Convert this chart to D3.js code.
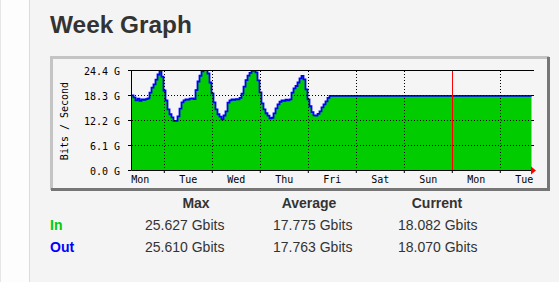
<!DOCTYPE html>
<html>
<head>
<meta charset="utf-8">
<script src="https://cdn.jsdelivr.net/npm/d3@7"></script>
<style>
html, body { margin: 0; padding: 0; background: #f4f4f4; overflow: hidden; }
svg { display: block; }
</style>
</head>
<body>
<div id="chart"></div>
<script>
// hourly samples (Gbit/s) from the start of the graph, then a flat tail
const inValues = [
  18.30, 17.81, 17.08, 17.45, 16.95, 17.32, 17.20, 17.38, 17.57, 19.03,
  20.25, 20.98, 22.20, 23.42, 24.60, 22.94, 19.52, 17.08, 14.88, 13.66,
  12.93, 12.08, 12.08, 13.18, 15.13, 16.59, 17.08, 17.32, 17.20, 17.45,
  17.57, 17.40, 19.76, 21.72, 23.18, 24.16, 25.63, 24.90, 23.67, 21.47,
  18.79, 16.59, 14.88, 13.66, 13.05, 12.44, 13.42, 14.40, 16.59, 17.08,
  17.32, 17.15, 17.40, 17.32, 17.69, 18.79, 20.50, 22.08, 23.18, 23.79,
  24.28, 24.70, 23.91, 21.96, 19.03, 16.35, 14.88, 13.91, 13.30, 12.69,
  12.81, 13.91, 15.13, 16.10, 16.71, 17.08, 16.95, 17.20, 17.08, 17.32,
  19.03, 20.01, 20.62, 21.47, 22.45, 23.06, 22.20, 19.76, 17.32, 15.62,
  14.15, 13.42, 13.30, 13.79, 14.40, 15.37, 16.10, 16.84, 17.69, 18.18
];
const outValues = [
  18.20, 17.70, 17.00, 17.40, 16.90, 17.25, 17.10, 17.30, 17.50, 18.90,
  20.10, 20.90, 22.05, 23.30, 24.50, 22.80, 19.40, 17.00, 14.80, 13.60,
  12.85, 12.00, 12.00, 13.10, 15.00, 16.50, 17.00, 17.25, 17.15, 17.40,
  17.50, 17.30, 19.50, 21.60, 23.00, 24.05, 25.61, 24.80, 23.55, 21.35,
  18.70, 16.50, 14.80, 13.60, 13.00, 12.35, 13.30, 14.30, 16.45, 17.00,
  17.25, 17.10, 17.30, 17.25, 17.60, 18.65, 20.35, 21.95, 23.05, 23.70,
  24.20, 24.60, 23.80, 21.85, 18.95, 16.25, 14.80, 13.85, 13.25, 12.60,
  12.75, 13.80, 15.05, 16.00, 16.65, 17.00, 16.90, 17.15, 17.00, 17.25,
  18.90, 19.90, 20.50, 21.35, 22.35, 22.95, 22.10, 19.65, 17.25, 15.55,
  14.10, 13.35, 13.25, 13.70, 14.30, 15.30, 16.00, 16.75, 17.60, 18.10
];
const currentIn = 18.082;
const currentOut = 18.070;

const yTicks = [0, 6.1, 12.2, 18.3, 24.4];
const statHeaders = ["Max", "Average", "Current"];
const inStats = ["25.627 Gbits", "17.775 Gbits", "18.082 Gbits"];
const outStats = ["25.610 Gbits", "17.763 Gbits", "18.070 Gbits"];

const start = new Date(2024, 0, 1, 7, 36);   // a Monday morning
const spanHours = 200;
const end = d3.timeHour.offset(start, spanHours);
const weekStart = new Date(2024, 0, 8);      // red line

function toSeries(vals, current) {
  const s = vals.map((v, i) => ({ t: d3.timeHour.offset(start, i), v: v }));
  s.push({ t: d3.timeHour.offset(start, vals.length), v: current });
  s.push({ t: end, v: current });
  return s;
}
const inSeries = toSeries(inValues, currentIn);
const outSeries = toSeries(outValues, currentOut);

const W = 559, H = 282;
const svg = d3.select("#chart").append("svg").attr("width", W).attr("height", H);

// page background with left strip
svg.append("rect").attr("width", W).attr("height", H).attr("fill", "#f4f4f4");
svg.append("rect").attr("x", 0).attr("width", 29).attr("height", H).attr("fill", "#fdfdfd");
svg.append("line").attr("x1", 29.5).attr("x2", 29.5).attr("y1", 0).attr("y2", H).attr("stroke", "#dcdcdc");
svg.append("line").attr("x1", 0.5).attr("x2", 0.5).attr("y1", 0).attr("y2", H).attr("stroke", "#e6e6e6");

svg.append("text").text("Week Graph")
  .attr("x", 50).attr("y", 33)
  .attr("font-family", "Liberation Sans, Arial, sans-serif")
  .attr("font-weight", "bold").attr("font-size", 24.4)
  .attr("fill", "#333");

// graph image frame
const img = svg.append("g");
img.append("rect").attr("x", 50).attr("y", 56).attr("width", 500).attr("height", 135).attr("fill", "#f5f5f5");
img.append("path").attr("d", "M51.5,190 V57.5 H549").attr("fill", "none").attr("stroke", "#c4c4c4").attr("stroke-width", 3);
img.append("path").attr("d", "M548.5,57 V189.5 H51").attr("fill", "none").attr("stroke", "#767676").attr("stroke-width", 3);

const x = d3.scaleTime().domain([start, end]).range([131, 531]);
const y = d3.scaleLinear().domain([0, 24.4]).range([170, 70]);

svg.append("defs").append("clipPath").attr("id", "plotclip")
  .append("rect").attr("x", 131).attr("y", 70).attr("width", 401).attr("height", 101);

const plot = svg.append("g").attr("clip-path", "url(#plotclip)");

plot.append("path").datum(inSeries)
  .attr("fill", "#00cc00")
  .attr("d", d3.area().curve(d3.curveStepAfter)
    .x(d => x(d.t) + 0.5).y0(y(0) + 0.5).y1(d => y(d.v)));

const midnights = d3.timeDay.range(d3.timeDay.ceil(start), end);
const noons = d3.timeDay.range(d3.timeDay.floor(start), end).map(d => d3.timeHour.offset(d, 12));

// dotted grid
const grid = svg.append("g").attr("stroke", "#000").attr("stroke-dasharray", "1,2");
grid.selectAll("line.h").data(yTicks.filter(t => t > 0 && t < 24.4)).join("line")
  .attr("class", "h")
  .attr("x1", x(start) + 1).attr("x2", x(end) + 1)
  .attr("y1", d => Math.round(y(d)) + 0.5).attr("y2", d => Math.round(y(d)) + 0.5);
grid.selectAll("line.v").data(midnights.filter(d => +d !== +weekStart)).join("line")
  .attr("class", "v")
  .attr("x1", d => Math.round(x(d)) + 0.5).attr("x2", d => Math.round(x(d)) + 0.5)
  .attr("y1", y(24.4) + 1).attr("y2", y(0));

plot.append("path").datum(outSeries)
  .attr("fill", "none").attr("stroke", "#0000ff").attr("stroke-width", 1.8)
  .attr("d", d3.line().curve(d3.curveStepAfter)
    .x(d => x(d.t) + 0.5).y(d => y(d.v)));

// red week marker
svg.append("line")
  .attr("x1", Math.round(x(weekStart)) + 0.5).attr("x2", Math.round(x(weekStart)) + 0.5)
  .attr("y1", y(24.4)).attr("y2", y(0))
  .attr("stroke", "#ff0000");

const monoFont = "DejaVu Sans Mono, monospace";

// y axis
const yAxis = svg.append("g").attr("transform", "translate(131,0)")
  .call(d3.axisLeft(y).tickValues(yTicks).tickSize(3).tickSizeOuter(0).tickPadding(8)
    .tickFormat(d => d.toFixed(1) + " G"));
yAxis.select(".domain").attr("stroke", "#000");
yAxis.selectAll("text").attr("font-family", monoFont).attr("font-size", 10).attr("fill", "#000").attr("dy", "0.4em");

// right side ticks
svg.append("g").attr("transform", "translate(531,0)")
  .call(d3.axisRight(y).tickValues(yTicks.slice(1)).tickSize(3).tickFormat(""))
  .select(".domain").remove();

// top line
svg.append("line").attr("x1", 131).attr("x2", 534).attr("y1", 70.5).attr("y2", 70.5).attr("stroke", "#000");

// x axis ticks at midnights
const xAxis = svg.append("g").attr("transform", "translate(0,170)")
  .call(d3.axisBottom(x).tickValues(midnights).tickSize(3).tickSizeOuter(0).tickFormat(""));
xAxis.select(".domain").attr("stroke", "#000");

// day labels at noon
const xLab = svg.append("g").attr("transform", "translate(0,170)")
  .call(d3.axisBottom(x).tickValues(noons).tickSize(0).tickPadding(6)
    .tickFormat(d3.timeFormat("%a")));
xLab.select(".domain").remove();
xLab.selectAll("text").attr("font-family", monoFont).attr("font-size", 10).attr("fill", "#000");

// red arrow at the end of the time axis
svg.append("path")
  .attr("d", `M${x(end)},${y(0) - 3.5} L${x(end) + 5},${y(0) + 0.5} L${x(end)},${y(0) + 4.5} Z`)
  .attr("fill", "#ff0000");

svg.append("text").text("Bits / Second")
  .attr("transform", "translate(68,121) rotate(-90)")
  .attr("text-anchor", "middle")
  .attr("font-family", monoFont).attr("font-size", 10).attr("fill", "#000");

// stats table
const tf = "Liberation Sans, Arial, sans-serif";
const headerX = [196, 309, 437];
const valueX = [145, 273, 398];
svg.append("g").selectAll("text").data(statHeaders).join("text")
  .text(d => d)
  .attr("x", (d, i) => headerX[i]).attr("y", 208)
  .attr("text-anchor", "middle")
  .attr("font-family", tf).attr("font-weight", "bold").attr("font-size", 14).attr("fill", "#333");

const rows = [
  { name: "In", color: "#00cc00", stats: inStats, yy: 230 },
  { name: "Out", color: "#0000ff", stats: outStats, yy: 252 }
];
rows.forEach(r => {
  svg.append("text").text(r.name)
    .attr("x", 50).attr("y", r.yy)
    .attr("font-family", tf).attr("font-weight", "bold").attr("font-size", 14).attr("fill", r.color);
  svg.append("g").selectAll("text").data(r.stats).join("text")
    .text(d => d)
    .attr("x", (d, i) => valueX[i]).attr("y", r.yy)
    .attr("font-family", tf).attr("font-size", 14).attr("fill", "#333");
});
</script>
</body>
</html>
